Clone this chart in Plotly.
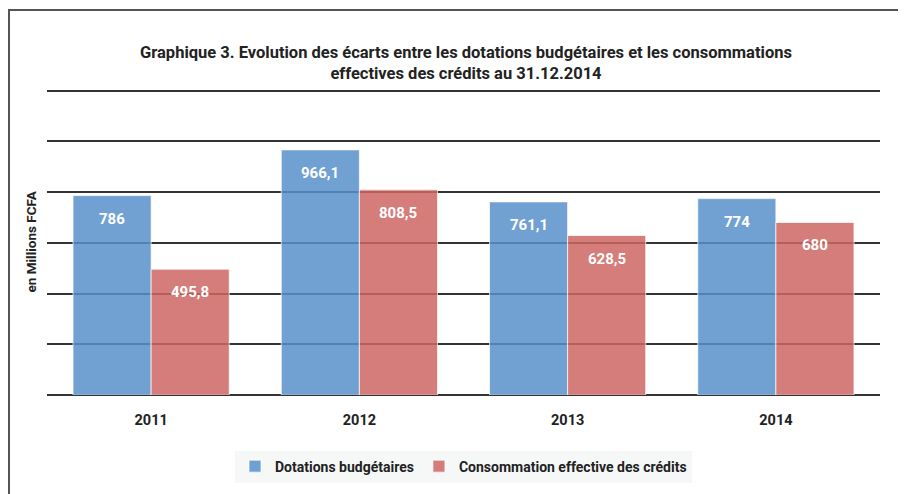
import plotly.graph_objects as go

# Data
years = ['2011', '2012', '2013', '2014']
dotations = [786, 966.1, 761.1, 774]
consommation = [495.8, 808.5, 628.5, 680]
dotations_labels = ['786', '966,1', '761,1', '774']
consommation_labels = ['495,8', '808,5', '628,5', '680']

FONT = 'Roboto, Liberation Sans, sans-serif'
BLUE = 'rgba(87,145,202,0.85)'
RED = 'rgba(205,102,99,0.85)'
EDGE = 'rgba(255,255,255,0.7)'

fig = go.Figure()

fig.add_trace(go.Bar(
    x=years, y=dotations, name='Dotations budgétaires',
    marker=dict(color=BLUE, line=dict(color=EDGE, width=1)),
))
fig.add_trace(go.Bar(
    x=years, y=consommation, name='Consommation effective des crédits',
    marker=dict(color=RED, line=dict(color=EDGE, width=1)),
))

# value labels near the top inside each bar (x given as category index)
for i, (v, lab) in enumerate(zip(dotations, dotations_labels)):
    fig.add_annotation(x=i, y=v, text=lab, showarrow=False, xshift=-39, yshift=-23,
                       font=dict(family=FONT, size=15, color='white', weight='bold'))
for i, (v, lab) in enumerate(zip(consommation, consommation_labels)):
    fig.add_annotation(x=i, y=v, text=lab, showarrow=False, xshift=39, yshift=-23,
                       font=dict(family=FONT, size=15, color='white', weight='bold'))

# y-axis title
fig.add_annotation(xref='paper', yref='paper', x=-0.0204, xanchor='center', y=0.5, textangle=-90,
                   text='en Millions FCFA', showarrow=False,
                   font=dict(family=FONT, size=13.5, color='#222', weight='bold'))

# outer frame (only top and left edges visible)
fig.add_shape(type='path', xref='paper', yref='paper',
              path='M -0.0456,-1 L -0.0456,1.254 L 1.2,1.254',
              line=dict(color='#555', width=2))

fig.update_layout(
    width=898, height=486,
    margin=dict(l=39, r=26, t=80, b=99),
    paper_bgcolor='white', plot_bgcolor='white',
    barmode='group', bargap=0.25, bargroupgap=0,
    title=dict(
        text='Graphique 3. Evolution des écarts entre les dotations budgétaires et les consommations<br>effectives des crédits au 31.12.2014',
        x=0.51, xanchor='center', y=1 - 50 / 486, yanchor='middle',
        font=dict(family=FONT, size=16.5, color='#222', weight='bold'),
    ),
    font=dict(family=FONT, color='#222'),
    xaxis=dict(type='category', range=[-0.5, 3.5], showgrid=False, showline=False, ticks='',
               ticklabelstandoff=14,
               tickfont=dict(family=FONT, size=14.5, color='#222', weight='bold')),
    yaxis=dict(range=[0, 1210], tickvals=[0, 200, 400, 600, 800, 1000, 1200],
               showticklabels=False, showgrid=True,
               gridcolor='#333', gridwidth=1.5, zeroline=True, zerolinecolor='#333',
               zerolinewidth=2, showline=False),
    legend=dict(orientation='h', x=0.5, xanchor='center', y=-0.233, yanchor='middle',
                bgcolor='#f6f8f8', font=dict(family=FONT, size=14, color='#222', weight='bold'),
                traceorder='normal'),
    showlegend=True,
)

fig.write_html('out.html')
